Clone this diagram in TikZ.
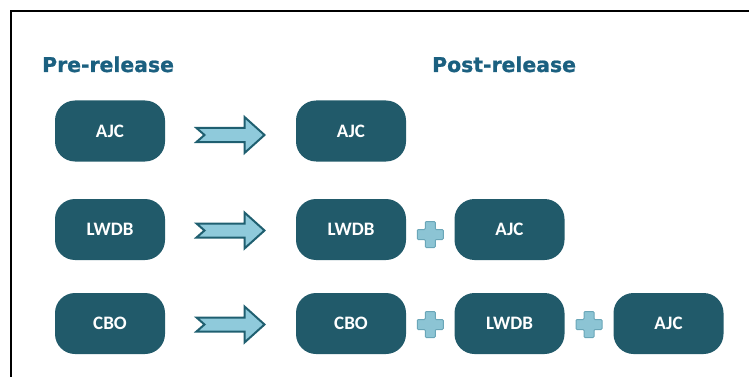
\documentclass[tikz,border=0pt]{standalone}
\usepackage{fontspec}
\usepackage{tikz}
\usetikzlibrary{calc}
\newfontfamily\headfont{DejaVu Sans Bold}[FakeBold=1]
\newfontfamily\labelfont{Carlito}
\definecolor{boxteal}{HTML}{215A6A}
\definecolor{headteal}{HTML}{1B6080}
\definecolor{arrowfill}{HTML}{8FCADB}
\definecolor{arrowedge}{HTML}{1F5F70}
\definecolor{plusfill}{HTML}{8CC4D4}
\definecolor{plusedge}{HTML}{6AA6B8}
\tikzset{%
    dbbox/.style={fill=boxteal,rounded corners=20pt,minimum width=110pt,minimum height=61pt,
        inner sep=0pt,text=white,font=\labelfont\bfseries\fontsize{19}{21}\selectfont},
    heading/.style={anchor=base west,inner sep=0pt,text=headteal,font=\headfont\fontsize{20.4}{24}\selectfont},
    notcharrow/.pic={
        \draw[fill=arrowfill,draw=arrowedge,line width=2pt,line join=miter]
            (-34,-7) -- (14,-7) -- (14,-18) -- (34,0) -- (14,18) -- (14,7) -- (-34,7) -- (-26,0) -- cycle;
    },
    plussign/.pic={
        \draw[fill=plusfill,draw=plusedge,line width=1pt,rounded corners=1pt]
            (-5,-13) -- (5,-13) -- (5,-5) -- (13,-5) -- (13,5) -- (5,5) -- (5,13) -- (-5,13)
            -- (-5,5) -- (-13,5) -- (-13,-5) -- (-5,-5) -- cycle;
    }
}
\begin{document}
\begin{tikzpicture}[x=1pt,y=-1pt]
            \useasboundingbox (0,0) rectangle (749,377);
            \draw[line width=2pt] (11,377) -- (11,11) -- (749,11);

            \node[heading] (pre) at (42,72) {Pre-release};
            \node[heading] (post) at (432,72) {Post-release};

            \node[dbbox] (ajc1) at (110,131) {AJC};
            \node[dbbox] (lwdb1) at (110,229.5) {LWDB};
            \node[dbbox] (cbo1) at (110,323.5) {CBO};

            \node[dbbox] (ajc2) at (351,131) {AJC};
            \node[dbbox] (lwdb2) at (351,229.5) {LWDB};
            \node[dbbox] (ajc3) at (509.5,229.5) {AJC};
            \node[dbbox] (cbo2) at (351,323.5) {CBO};
            \node[dbbox] (lwdb3) at (509.5,323.5) {LWDB};
            \node[dbbox] (ajc4) at (668.5,323.5) {AJC};

            \pic at ($(ajc1.east)!0.5!(ajc2.west)+(0,4)$) {notcharrow};
            \pic at ($(lwdb1.east)!0.5!(lwdb2.west)+(0,1)$) {notcharrow};
            \pic at ($(cbo1.east)!0.5!(cbo2.west)+(0,1)$) {notcharrow};

            \pic at ($(lwdb2.east)!0.5!(ajc3.west)+(0,5)$) {plussign};
            \pic at ($(cbo2.east)!0.5!(lwdb3.west)+(0,1)$) {plussign};
            \pic at ($(lwdb3.east)!0.5!(ajc4.west)+(0,1)$) {plussign};
        \end{tikzpicture}
\end{document}
